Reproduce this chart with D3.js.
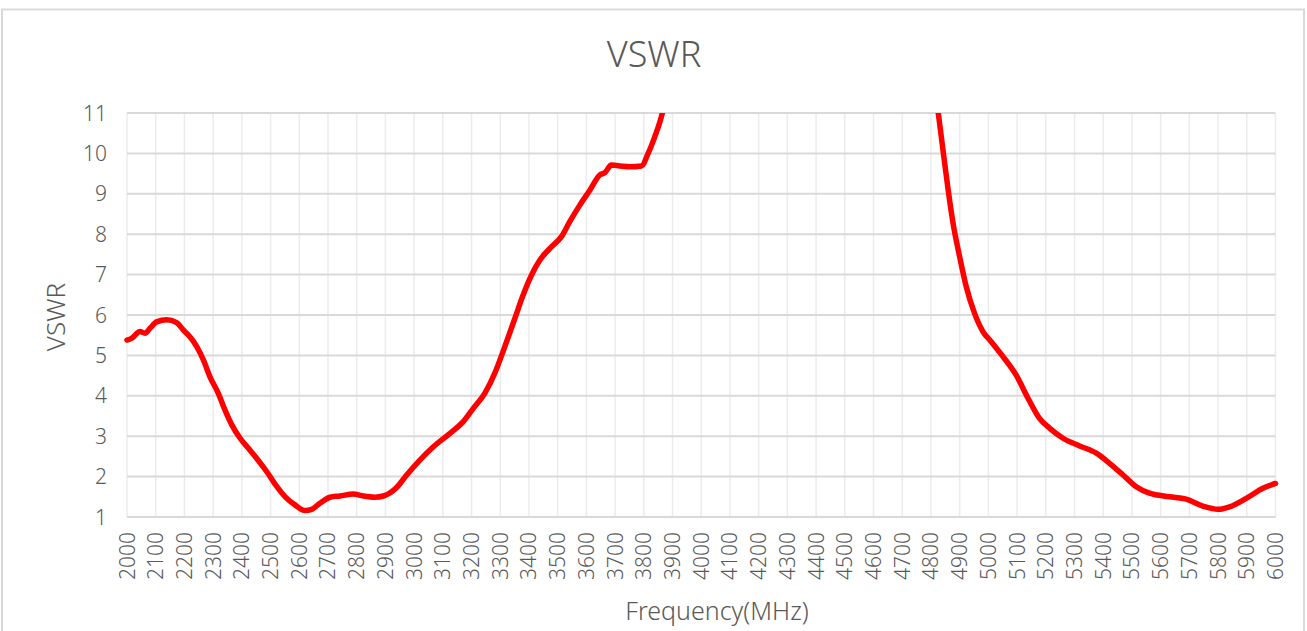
<!DOCTYPE html>
<html>
<head>
<meta charset="utf-8">
<script src="https://cdn.jsdelivr.net/npm/d3@7"></script>
<style>
html,body{margin:0;padding:0;background:#fff;}
svg{display:block;}
text{font-family:"Noto Sans","DejaVu Sans",sans-serif;fill:#595959;font-weight:300;}
</style>
</head>
<body>
<svg id="chart" width="1307" height="631"></svg>
<script>
// Data (frequency in MHz, VSWR)
const freqs = [2000,2016,2045,2063,2080,2103,2138,2173,2196,2219,2243,2266,2289,2318,2341,2365,2394,2423,2452,2487,2522,2551,2585,2620,2643,2672,2707,2742,2788,2823,2863,2893,2939,2974,3020,3067,3125,3171,3206,3246,3281,3316,3351,3380,3409,3438,3473,3513,3542,3577,3612,3647,3664,3687,3716,3751,3792,3815,3838,3856,3867,3890,3950,4400,4800,4825,4842,4860,4877,4900,4923,4952,4981,5010,5051,5097,5138,5178,5213,5260,5318,5376,5422,5469,5515,5561,5631,5689,5747,5800,5840,5898,5956,6000];
const vswr  = [5.38,5.42,5.59,5.55,5.67,5.83,5.88,5.81,5.63,5.46,5.22,4.89,4.47,4.06,3.65,3.28,2.95,2.70,2.45,2.12,1.75,1.50,1.30,1.16,1.19,1.34,1.49,1.52,1.57,1.52,1.49,1.52,1.73,2.04,2.41,2.74,3.07,3.36,3.69,4.06,4.56,5.22,5.92,6.50,6.99,7.36,7.65,7.94,8.31,8.72,9.09,9.47,9.52,9.71,9.69,9.67,9.69,10.0,10.41,10.78,11.07,11.8,13.5,16,12.4,11.03,10.08,9.09,8.27,7.44,6.70,6.04,5.59,5.34,4.97,4.51,3.94,3.44,3.20,2.95,2.76,2.58,2.33,2.04,1.75,1.59,1.50,1.44,1.27,1.19,1.25,1.46,1.71,1.83];
const xTicks = d3.range(2000, 6001, 100);
const yTicks = [1,2,3,4,5,6,7,8,9,10,11];
const titleText = "VSWR";
const xLabel = "Frequency(MHz)";
const yLabel = "VSWR";

const svg = d3.select("#chart");
const pLeft = 127, pRight = 1275.5, pTop = 113, pBottom = 517;

// outer border
svg.append("rect").attr("x",2).attr("y",9.5).attr("width",1302).attr("height",640)
  .attr("fill","#fff").attr("stroke","#d9d9d9").attr("stroke-width",2);

const x = d3.scaleLinear().domain([2000,6000]).range([pLeft,pRight]);
const y = d3.scaleLinear().domain([1,11]).range([pBottom,pTop]);

// vertical gridlines
svg.append("g").selectAll("line").data(xTicks).join("line")
  .attr("x1",d=>x(d)).attr("x2",d=>x(d)).attr("y1",pTop).attr("y2",pBottom)
  .attr("stroke","#ececec").attr("stroke-width",1.5);
// horizontal gridlines
svg.append("g").selectAll("line").data(yTicks).join("line")
  .attr("x1",pLeft).attr("x2",pRight).attr("y1",d=>y(d)).attr("y2",d=>y(d))
  .attr("stroke","#d9d9d9").attr("stroke-width",2);

// y tick labels
svg.append("g").selectAll("text").data(yTicks).join("text")
  .attr("x",107).attr("y",d=>y(d)).attr("dy","0.36em")
  .attr("text-anchor","end").attr("font-size",21).text(d=>d);

// x tick labels (rotated)
svg.append("g").selectAll("text").data(xTicks).join("text")
  .attr("transform",d=>`translate(${x(d)+7.5},532) rotate(-90)`)
  .attr("text-anchor","end").attr("font-size",21).text(d=>d);

// clip
svg.append("clipPath").attr("id","clip").append("rect")
  .attr("x",pLeft-4).attr("y",pTop).attr("width",pRight-pLeft+8).attr("height",pBottom-pTop+6);

const pts = freqs.map((f,i)=>[f,vswr[i]]);
const line = d3.line().x(d=>x(d[0])).y(d=>y(d[1])).curve(d3.curveMonotoneX);
svg.append("path").attr("d",line(pts)).attr("fill","none")
  .attr("stroke","#ff0000").attr("stroke-width",5.5).attr("stroke-linejoin","round")
  .attr("stroke-linecap","round").attr("clip-path","url(#clip)");

// title & axis labels
svg.append("text").attr("x",654).attr("y",67).attr("text-anchor","middle")
  .attr("font-size",36).text(titleText);
svg.append("text").attr("x",717).attr("y",620).attr("text-anchor","middle")
  .attr("font-size",25).text(xLabel);
svg.append("text").attr("transform","translate(65,317) rotate(-90)").attr("text-anchor","middle")
  .attr("font-size",26).text(yLabel);
</script>
</body>
</html>
